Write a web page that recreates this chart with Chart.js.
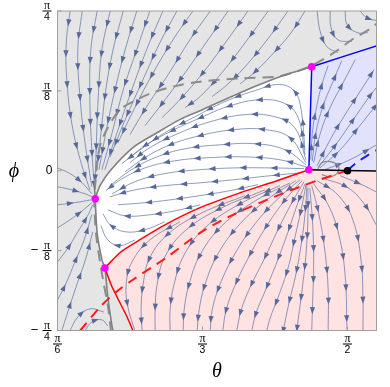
<!DOCTYPE html>
<html>
<head>
<meta charset="utf-8">
<script src="https://cdn.jsdelivr.net/npm/chart.js@4.4.0/dist/chart.umd.min.js"></script>
<style>
  body { margin: 0; background: #fff; }
</style>
</head>
<body>
<canvas id="flow" width="390" height="387"></canvas>
<script>
// axes are in degrees: theta runs pi/6 .. 8pi/15, phi runs -pi/4 .. pi/4
const thetaMin = 30, thetaMax = 96, phiMin = -45, phiMax = 45;
const thetaTicks = [30, 60, 90];
const thetaTickLabels = ['π/6', 'π/3', 'π/2'];
const phiTicks = [45, 22.5, 0, -22.5, -45];
const phiTickLabels = ['π/4', 'π/8', '0', '−π/8', '−π/4'];

// fixed points
const saddlePoints = [[37.8, -7.9], [39.8, -27.4], [82.0, 0.3], [82.6, 29.3]];
const nodePoints = [[90, 0]];

// separatrices
const graySolidUpper = [[37.8, -7.9], [38.8, -4.2], [40.9, 0], [45.6, 6.5], [50.6, 10.7], [55.3, 14.4], [59.5, 16.9], [67.8, 22.0], [76.7, 26.8], [82.6, 29.3]];
const graySolidLeft = [[37.6, -3.9], [37.8, -7.9], [38.2, -17.5], [39.2, -25.1], [39.8, -27.4], [40.4, -35.5], [41.3, -44.0], [41.6, -45.5]];
const grayDashed = [[41.1, -45.5], [40.4, -37.8], [39.6, -32.1], [38.8, -25.7], [38.0, -18.0], [37.6, -8.2], [37.8, -3.9], [38.2, 3.1], [39.0, 7.9], [40.2, 11.6], [42.9, 17.2], [46.4, 20.0], [49.1, 21.7], [53.9, 23.7], [59.5, 25.1], [67.8, 26.0], [75.4, 26.5], [78.1, 27.4], [82.6, 29.6], [87.8, 33.8], [90.9, 36.9], [94.7, 40.0], [96.5, 42.0]];
const redUpper = [[39.8, -27.4], [42.9, -23.1], [46.0, -20.3], [52.7, -14.9], [59.5, -10.4], [67.8, -6.2], [75.4, -2.8], [82.0, 0.3]];
const redLower = [[39.8, -27.4], [41.1, -32.1], [42.3, -35.5], [44.4, -41.2], [45.6, -45], [45.8, -45.5]];
const redDashed = [[34.7, -45], [38.8, -38.4], [41.9, -34.4], [45.6, -30.7], [52.7, -24.3], [59.5, -17.5], [66.3, -12.4], [73.3, -8.2], [80.2, -4.5], [84.3, -2.5], [88.5, -0.6], [90, 0]];
const blueDashed = [[90, 0.1], [92, 2.4], [94, 4.2], [96.5, 6.2]];
const blueSide = [[82.0, 0.3], [82.2, 10.0], [82.4, 20.0], [82.6, 29.3]];
const blueTop = [[82.6, 29.3], [96.5, 35.4]];
const blackLine = [[82.0, 0.3], [96.5, -0.1]];
const grayLoop = [[83.9, 0.6], [84.7, 2.3], [86.8, 2.5], [88.2, 1.1], [87.8, -0.8], [86.4, -1.7], [84.7, -1.1]];

// stream lines, each listed in the direction of flow
const grayFan = [
  [[32.6, 45], [31.8, 35.5], [32.0, 24.3], [33.0, 13.0], [34.7, 3.1], [36.7, -5.4]],
  [[35.1, 45], [34.2, 34.1], [34.7, 20.0], [35.7, 7.9], [37.1, -4.5]],
  [[38.2, 45], [36.9, 34.1], [36.7, 20.0], [37.1, 5.9], [37.6, -3.9]],
  [[40.9, 45], [39.2, 34.1], [38.4, 20.0], [38.0, 5.9], [37.8, -2.5]],
  [[43.6, 45], [41.5, 34.1], [40.0, 22.8], [39.0, 10.7], [38.2, 0.3]],
  [[46.4, 45], [44.0, 34.1], [41.9, 22.8], [40.0, 10.7], [38.6, 0.3]],
  [[49.1, 45], [46.4, 34.1], [43.6, 22.8], [41.3, 10.7], [39.2, 0.3]],
  [[51.8, 45], [48.7, 35.0], [45.6, 23.7], [42.3, 10.7], [39.8, 0.3]],
  [[54.7, 45], [51.2, 36.1], [47.7, 25.7], [44.0, 14.4], [40.9, 3.9]],
  [[58.0, 45], [53.9, 36.9], [49.8, 27.6], [46.0, 17.8], [42.5, 7.9]],
  [[61.6, 45], [57.4, 36.9], [52.9, 27.1], [48.7, 18.6], [45.0, 10.2]],
  [[65.3, 45], [60.9, 36.4], [56.4, 27.6], [51.8, 19.2], [48.1, 12.7]],
  [[69.4, 45], [64.9, 36.4], [60.1, 27.6], [55.3, 20.0], [51.6, 14.9]],
  [[73.6, 45], [69.0, 36.4], [64.0, 27.6], [59.5, 20.9], [56.4, 17.8]],
  [[77.7, 45], [73.1, 36.4], [68.6, 29.0], [64.9, 24.0], [62.0, 20.9]],
  [[81.2, 45], [78.5, 39.2], [75.0, 33.6], [70.9, 27.9], [67.8, 24.5]]
];
const topRightFlow = [
  [[83.7, 45], [84.3, 39.5], [85.7, 35.0], [88.0, 33.3]],
  [[86.4, 45], [86.6, 40.3], [88.0, 36.9], [90.9, 36.4]],
  [[89.5, 45], [89.9, 41.2], [92.0, 38.9], [94.2, 38.9]],
  [[92.6, 45], [94.0, 43.1], [96.2, 42.2]]
];
const leftFan = [
  [[30, 0.8], [32.6, -0.8], [35.1, -3.4], [37.1, -6.5]],
  [[30, -4.5], [33.0, -5.4], [35.7, -6.5], [37.1, -7.3]],
  [[30, -9.6], [33.6, -9.0], [36.9, -8.2]],
  [[30, -16.1], [32.6, -13.8], [35.1, -11.3], [37.1, -9.0]],
  [[30, -25.7], [32.2, -21.7], [34.2, -17.2], [36.1, -13.0], [37.3, -9.6]],
  [[30, -36.4], [31.8, -31.6], [33.6, -25.7], [35.5, -19.5], [37.1, -12.4]],
  [[30.9, -45], [32.6, -37.8], [34.2, -31.3], [35.9, -24.5], [37.3, -17.2]],
  [[32.6, -45], [34.2, -41.2], [36.7, -38.9], [39.6, -39.8]],
  [[35.7, -45], [37.1, -42.6], [39.2, -42.0], [40.4, -43.7]]
];
const whiteFlow = [
  [[81.2, 5.9], [80.4, 17.2], [79.1, 22.3], [76.0, 24.3], [70.9, 22.6], [64.7, 19.5], [58.4, 15.2], [52.2, 10.7], [47.1, 5.9], [43.3, 2.0]],
  [[81.2, 4.5], [79.8, 14.9], [77.1, 18.9], [71.9, 20.0], [65.7, 18.3], [59.5, 14.9], [53.3, 11.0], [48.1, 7.1], [44.4, 3.1]],
  [[81.4, 3.1], [79.1, 12.1], [75.0, 15.2], [68.8, 15.8], [61.6, 13.8], [55.3, 10.7], [49.1, 6.5], [45.0, 2.3]],
  [[81.4, 2.3], [78.1, 9.3], [72.9, 11.6], [66.7, 11.6], [59.5, 9.9], [53.3, 7.3], [48.1, 3.7], [44.0, -0.3]],
  [[81.4, 1.7], [77.1, 5.9], [70.9, 7.6], [63.6, 7.3], [56.4, 6.2], [50.2, 3.7], [45.0, 0], [41.3, -3.7]],
  [[81.4, 1.1], [76.0, 3.1], [68.8, 3.9], [61.6, 3.7], [54.3, 2.8], [48.1, 0.8], [43.3, -2.3], [40.0, -5.6]],
  [[81.0, 0.6], [74.0, 0.8], [66.7, 0.8], [59.5, 0.3], [52.2, -0.8], [46.0, -3.1], [41.3, -6.5]],
  [[80.2, -0.6], [74.0, -1.4], [66.7, -2.5], [59.5, -3.4], [52.2, -4.2], [46.0, -5.4], [40.9, -7.3]],
  [[71.5, -3.9], [65.7, -5.6], [59.5, -7.0], [53.3, -8.2], [48.1, -9.0], [42.5, -9.6]],
  [[59.5, -9.6], [54.3, -11.3], [49.1, -12.4], [44.0, -12.7], [40.4, -11.0]],
  [[52.2, -14.4], [48.1, -16.6], [44.0, -17.2], [40.9, -15.2], [39.4, -12.1]],
  [[46.0, -19.5], [42.9, -21.1], [40.4, -19.5], [39.0, -15.5]]
];
const pinkFlow = [
  [[55.3, -14.4], [49.1, -19.5], [45.4, -25.7], [44.2, -32.1], [44.6, -38.6], [46.0, -45]],
  [[68.8, -7.0], [59.5, -12.1], [52.9, -17.8], [49.1, -24.5], [47.7, -32.1], [47.3, -39.2], [47.5, -45]],
  [[72.9, -5.4], [63.6, -10.7], [56.4, -16.9], [52.2, -24.3], [50.6, -32.1], [50.2, -39.2], [50.2, -45]],
  [[76.0, -4.2], [67.8, -9.3], [60.5, -16.1], [56.2, -23.7], [54.1, -32.1], [53.3, -39.2], [53.3, -45]],
  [[78.1, -3.4], [70.9, -8.5], [64.0, -15.5], [59.5, -23.7], [57.2, -32.1], [56.2, -39.2], [56.0, -45]],
  [[79.3, -2.8], [73.6, -7.9], [67.8, -14.9], [63.2, -23.4], [60.5, -32.1], [59.3, -39.2], [58.9, -45]],
  [[80.2, -2.5], [75.6, -7.9], [70.9, -14.9], [66.7, -23.4], [63.6, -32.1], [62.0, -39.2], [61.6, -45]],
  [[80.6, -2.8], [77.1, -8.2], [73.3, -15.5], [69.8, -23.7], [66.7, -32.4], [64.9, -39.2], [64.2, -45]],
  [[81.0, -3.1], [78.5, -9.0], [75.8, -16.1], [72.9, -24.5], [69.8, -33.0], [68.0, -39.2], [67.1, -45]],
  [[81.2, -3.7], [79.5, -9.9], [77.7, -17.2], [75.4, -25.7], [72.9, -34.1], [71.1, -40.0], [70.2, -45]],
  [[81.4, -3.9], [80.4, -11.0], [79.1, -18.9], [77.7, -27.4], [75.6, -35.8], [74.0, -41.5], [73.3, -45]],
  [[81.6, -4.2], [81.2, -12.4], [80.4, -20.9], [79.3, -29.3], [77.9, -37.2], [76.7, -45]],
  [[81.8, -4.8], [81.8, -13.8], [81.4, -23.7], [80.6, -33.6], [79.5, -45]],
  [[82.2, -4.8], [82.8, -15.2], [83.0, -26.5], [82.8, -36.4], [82.6, -45]],
  [[82.6, -4.2], [84.1, -12.4], [85.3, -22.3], [86.0, -33.6], [86.0, -45]],
  [[83.0, -3.7], [86.0, -9.6], [88.2, -18.0], [89.5, -29.3], [89.9, -45]],
  [[83.7, -2.8], [88.0, -6.8], [91.1, -13.8], [92.8, -25.1], [93.2, -36.4], [93.2, -45]],
  [[84.7, -2.0], [90.1, -4.8], [93.6, -9.6], [95.9, -15.2]],
  [[88.5, -1.4], [92.6, -3.7], [95.9, -5.9]]
];
const blueFlow = [
  [[82.4, 3.1], [82.8, 11.6], [83.7, 18.6], [84.7, 24.3], [86.0, 29.6]],
  [[82.7, 2.7], [83.5, 11.0], [85.0, 18.5], [86.8, 24.5], [88.8, 31.0]],
  [[83.0, 2.3], [84.3, 10.2], [86.4, 17.8], [88.9, 24.3], [91.6, 31.3]],
  [[83.7, 1.4], [86.4, 8.7], [89.5, 15.8], [92.6, 22.3], [95.5, 28.5]],
  [[84.0, 1.1], [87.5, 7.2], [91.0, 14.0], [94.3, 20.5], [96, 23.5]],
  [[84.3, 0.8], [88.5, 5.9], [92.2, 12.1], [96, 18.6]],
  [[85.3, 0.3], [90.5, 3.1], [96, 7.3]]
];

// basin colours
const grayFill = '#e5e5e5', pinkFill = '#ffe2e2', blueFill = '#e2e2fd';
const streamColor = 'rgba(96,116,162,0.8)', arrowColor = '#56699a';

const whiteRegion = [...graySolidUpper, ...blueSide.slice().reverse(), ...redUpper.slice().reverse(), ...graySolidLeft.slice(1, 5).reverse()];
const pinkRegion = [...redUpper.slice().reverse(), ...redLower, [thetaMax + 1, phiMin - 1], [thetaMax + 1, 0], ...blackLine.slice().reverse()];
const blueRegion = [...blueSide, ...blueTop, [thetaMax + 1, 0], ...blackLine.slice().reverse()];

const xy = list => list.map(p => ({ x: p[0], y: p[1] }));

function streamSet(line) {
  return { data: xy(line), showLine: true, borderColor: streamColor, borderWidth: 0.9, pointRadius: 0, tension: 0.4, order: 20, stream: true };
}
function curveSet(line, color, width, dash, order) {
  return { data: xy(line), showLine: true, borderColor: color, borderWidth: width, borderDash: dash || [], pointRadius: 0, tension: 0.3, order: order };
}

const datasets = [
  ...[...grayFan, ...topRightFlow, ...leftFan, ...whiteFlow, ...pinkFlow, ...blueFlow].map(streamSet),
  curveSet(grayLoop, '#8a8a8a', 1.2, null, 15),
  curveSet(grayDashed, '#8c8c8c', 2, [11, 7], 12),
  curveSet(graySolidUpper, '#808080', 1.6, null, 10),
  curveSet(graySolidLeft, '#808080', 1.6, null, 10),
  curveSet(redDashed, '#ff1a1a', 2, [10, 7], 9),
  curveSet(blueDashed, '#1a1aff', 2, [10, 7], 9),
  curveSet(redUpper, '#ff0000', 1.5, null, 8),
  curveSet(redLower, '#ff0000', 1.5, null, 8),
  curveSet(blueSide, '#0000ff', 1.5, null, 8),
  curveSet(blueTop, '#0000ff', 1.5, null, 8),
  curveSet(blackLine, '#000000', 1.5, null, 8),
  { data: xy(saddlePoints), pointRadius: 3.8, pointBackgroundColor: '#ff00ff', pointBorderWidth: 0, order: 1 },
  { data: xy(nodePoints), pointRadius: 3.8, pointBackgroundColor: '#000000', pointBorderWidth: 0, order: 1 }
];

function clipArea(ctx, a) {
  ctx.beginPath();
  ctx.rect(a.left, a.top, a.right - a.left, a.bottom - a.top);
  ctx.clip();
}

const regionPlugin = {
  id: 'regions',
  beforeDatasetsDraw(chart) {
    const { ctx, chartArea, scales: { x, y } } = chart;
    ctx.save();
    clipArea(ctx, chartArea);
    ctx.fillStyle = grayFill;
    ctx.fillRect(chartArea.left, chartArea.top, chartArea.right - chartArea.left, chartArea.bottom - chartArea.top);
    [[whiteRegion, '#ffffff'], [pinkRegion, pinkFill], [blueRegion, blueFill]].forEach(([poly, color]) => {
      ctx.beginPath();
      poly.forEach((p, i) => {
        const px = x.getPixelForValue(p[0]), py = y.getPixelForValue(p[1]);
        if (i) ctx.lineTo(px, py); else ctx.moveTo(px, py);
      });
      ctx.closePath();
      ctx.fillStyle = color;
      ctx.fill();
    });
    ctx.restore();
  }
};

// arrowheads spaced along each stream line, following its drawn bezier
const arrowGap = 31;
const arrowPlugin = {
  id: 'streamArrows',
  afterDatasetDraw(chart, args) {
    const ds = chart.data.datasets[args.index];
    if (!ds.stream) return;
    const pts = args.meta.data;
    const samples = [];
    for (let i = 0; i < pts.length - 1; i++) {
      const a = pts[i], b = pts[i + 1];
      const c1x = a.cp2x ?? a.x, c1y = a.cp2y ?? a.y;
      const c2x = b.cp1x ?? b.x, c2y = b.cp1y ?? b.y;
      for (let k = i ? 1 : 0; k <= 20; k++) {
        const t = k / 20, u = 1 - t;
        samples.push([
          u * u * u * a.x + 3 * u * u * t * c1x + 3 * u * t * t * c2x + t * t * t * b.x,
          u * u * u * a.y + 3 * u * u * t * c1y + 3 * u * t * t * c2y + t * t * t * b.y
        ]);
      }
    }
    const ctx = chart.ctx;
    ctx.save();
    clipArea(ctx, chart.chartArea);
    ctx.fillStyle = arrowColor;
    let next = 12 + (args.index * 13) % 19, run = 0;
    for (let i = 1; i < samples.length; i++) {
      const dx = samples[i][0] - samples[i - 1][0], dy = samples[i][1] - samples[i - 1][1];
      const d = Math.hypot(dx, dy);
      if (!d) continue;
      while (run + d >= next) {
        const f = (next - run) / d;
        const px = samples[i - 1][0] + dx * f, py = samples[i - 1][1] + dy * f;
        const ux = dx / d, uy = dy / d;
        ctx.beginPath();
        ctx.moveTo(px + ux * 3.5, py + uy * 3.5);
        ctx.lineTo(px - ux * 3.5 - uy * 2.6, py - uy * 3.5 + ux * 2.6);
        ctx.lineTo(px - ux * 3.5 + uy * 2.6, py - uy * 3.5 - ux * 2.6);
        ctx.closePath();
        ctx.fill();
        next += arrowGap;
      }
      run += d;
    }
    ctx.restore();
  }
};

function drawTickLabel(ctx, text, cx, cy) {
  ctx.textAlign = 'center';
  ctx.textBaseline = 'middle';
  const m = text.match(/^(−?)π\/(\d+)$/);
  if (!m) {
    ctx.font = '12px "Liberation Sans", Arial, sans-serif';
    ctx.fillText(text, cx + 2, cy);
    return;
  }
  if (m[1]) {
    ctx.font = '13px "Liberation Sans", Arial, sans-serif';
    ctx.fillText('−', cx - 12.5, cy);
  }
  ctx.font = '12px "Liberation Serif", "DejaVu Serif", serif';
  ctx.fillText('π', cx, cy - 5);
  ctx.fillRect(cx - 4.5, cy - 0.5, 9, 1);
  ctx.font = '10.5px "Liberation Sans", Arial, sans-serif';
  ctx.fillText(m[2], cx, cy + 6.5);
}

const framePlugin = {
  id: 'frame',
  afterDraw(chart) {
    const { ctx, chartArea: a, scales: { x, y } } = chart;
    ctx.save();
    ctx.strokeStyle = '#a0a0a0';
    ctx.lineWidth = 1;
    ctx.strokeRect(a.left, a.top, a.right - a.left, a.bottom - a.top);
    ctx.beginPath();
    thetaTicks.forEach(v => {
      const px = x.getPixelForValue(v);
      ctx.moveTo(px, a.bottom); ctx.lineTo(px, a.bottom - 4);
    });
    phiTicks.forEach(v => {
      const py = y.getPixelForValue(v);
      ctx.moveTo(a.left, py); ctx.lineTo(a.left + 4, py);
    });
    ctx.stroke();
    ctx.fillStyle = '#000';
    thetaTicks.forEach((v, i) => drawTickLabel(ctx, thetaTickLabels[i], x.getPixelForValue(v), a.bottom + 13.5));
    phiTicks.forEach((v, i) => drawTickLabel(ctx, phiTickLabels[i], a.left - 10.5, y.getPixelForValue(v)));
    ctx.font = 'italic 20px "Liberation Serif", "DejaVu Serif", serif';
    ctx.textAlign = 'center';
    ctx.textBaseline = 'middle';
    ctx.fillText('θ', (a.left + a.right) / 2, a.bottom + 41);
    ctx.fillText('ϕ', 14, y.getPixelForValue(0) + 1);
    ctx.restore();
  }
};

const ctx = document.getElementById('flow').getContext('2d');
new Chart(ctx, {
  type: 'scatter',
  data: { datasets: datasets },
  options: {
    responsive: false,
    animation: false,
    devicePixelRatio: 1,
    events: [],
    layout: { padding: { left: 57.5, right: 13.5, top: 11, bottom: 56.5 } },
    scales: {
      x: { type: 'linear', min: thetaMin, max: thetaMax, display: false },
      y: { type: 'linear', min: phiMin, max: phiMax, display: false }
    },
    plugins: { legend: { display: false }, tooltip: { enabled: false } }
  },
  plugins: [regionPlugin, arrowPlugin, framePlugin]
});
</script>
</body>
</html>
